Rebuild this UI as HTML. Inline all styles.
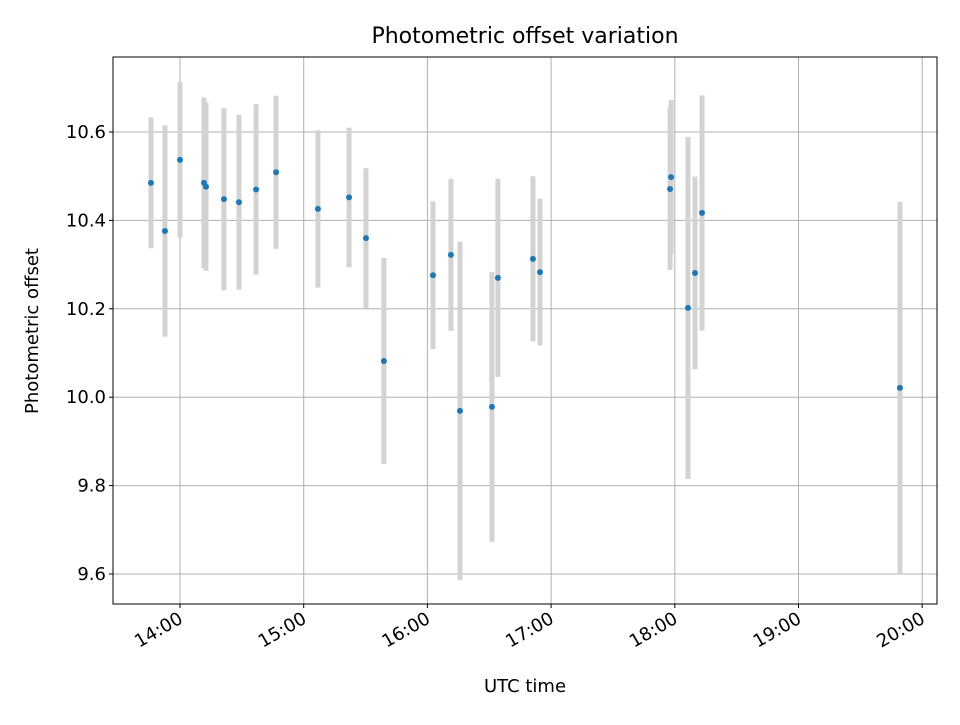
<!DOCTYPE html>
<html><head><meta charset="utf-8"><style>
body{margin:0;background:#fff}
svg text{font-family:"DejaVu Sans","Liberation Sans",sans-serif;fill:#000}
</style></head><body>
<svg id="chart" width="960" height="720" viewBox="0 0 960 720" xmlns="http://www.w3.org/2000/svg">
<rect x="0" y="0" width="960" height="720" fill="#fff"/>
<text x="525" y="43" font-size="22" text-anchor="middle">Photometric offset variation</text>
<g id="grid"></g>
<g id="marks"></g>
<rect x="113" y="57" width="824" height="547" fill="none" stroke="#000" stroke-width="1"/>
<g id="axes"></g>
<text x="525" y="692" font-size="18" text-anchor="middle">UTC time</text>
<text transform="translate(38,331) rotate(-90)" font-size="18" text-anchor="middle">Photometric offset</text>
</svg>
<script>
// minutes after 14:00 UTC
const times = [-14.1,-7.3,0,11.6,12.6,21.3,28.6,36.9,46.6,66.9,82,90.2,98.9,122.7,131.4,135.8,151.3,154.2,171.2,174.6,237.7,238.2,246.4,249.8,253.2,349.2];
const offsets = [10.485,10.376,10.537,10.485,10.476,10.448,10.441,10.470,10.509,10.426,10.452,10.360,10.082,10.276,10.322,9.969,9.978,10.270,10.313,10.283,10.471,10.498,10.202,10.281,10.417,10.021];
const errors = [0.148,0.239,0.176,0.193,0.19,0.206,0.198,0.193,0.173,0.178,0.158,0.158,0.233,0.167,0.172,0.383,0.305,0.224,0.187,0.166,0.183,0.174,0.387,0.218,0.266,0.421];
const yTicks = [9.6,9.8,10.0,10.2,10.4,10.6];
const yTickLabels = ["9.6","9.8","10.0","10.2","10.4","10.6"];
const xTicks = [0,60,120,180,240,300,360];
const xTickLabels = ["14:00","15:00","16:00","17:00","18:00","19:00","20:00"];

const X0=113,X1=937,Y0=57,Y1=604;
function xs(m){return 180 + m*123.7/60;}
function ys(v){return 574 - (v-9.6)*442;}
const NS="http://www.w3.org/2000/svg";
function mk(tag,attrs,parent){const e=document.createElementNS(NS,tag);for(const k in attrs)e.setAttribute(k,attrs[k]);parent.appendChild(e);return e;}
const grid=document.getElementById('grid'),marks=document.getElementById('marks'),axes=document.getElementById('axes');
yTicks.forEach((v,i)=>{
  const y=ys(v);
  const g=mk('line',{x1:X0,x2:X1,y1:y,y2:y,stroke:'#b0b0b0','stroke-width':1},grid);
  
  
  const t=mk('line',{x1:X0-4,x2:X0,y1:y,y2:y,stroke:'#000'},axes);
  
  
  const l=mk('text',{x:X0-7,y:y+6,'font-size':18,'text-anchor':'end'},axes);
  l.textContent=yTickLabels[i];
  
  
});
xTicks.forEach((m,i)=>{
  const x=xs(m);
  const g=mk('line',{x1:x,x2:x,y1:Y0,y2:Y1,stroke:'#b0b0b0','stroke-width':1},grid);
  
  
  const t=mk('line',{x1:x,x2:x,y1:Y1,y2:Y1+4,stroke:'#000'},axes);
  
  
  const l=mk('text',{transform:`translate(${x+4},${Y1+18}) rotate(-30)`,'font-size':18,'text-anchor':'end'},axes);
  l.textContent=xTickLabels[i];
  
  
});
times.forEach((m,i)=>{
  const x=xs(m);
  const b=mk('line',{x1:x,x2:x,y1:ys(offsets[i]+errors[i]),y2:ys(offsets[i]-errors[i]),stroke:'#d3d3d3','stroke-width':5},marks);
  
  
});
times.forEach((m,i)=>{
  const p=mk('circle',{cx:xs(m),cy:ys(offsets[i]),r:3,fill:'#1f77b4'},marks);
  
  
});
</script>
</body></html>
